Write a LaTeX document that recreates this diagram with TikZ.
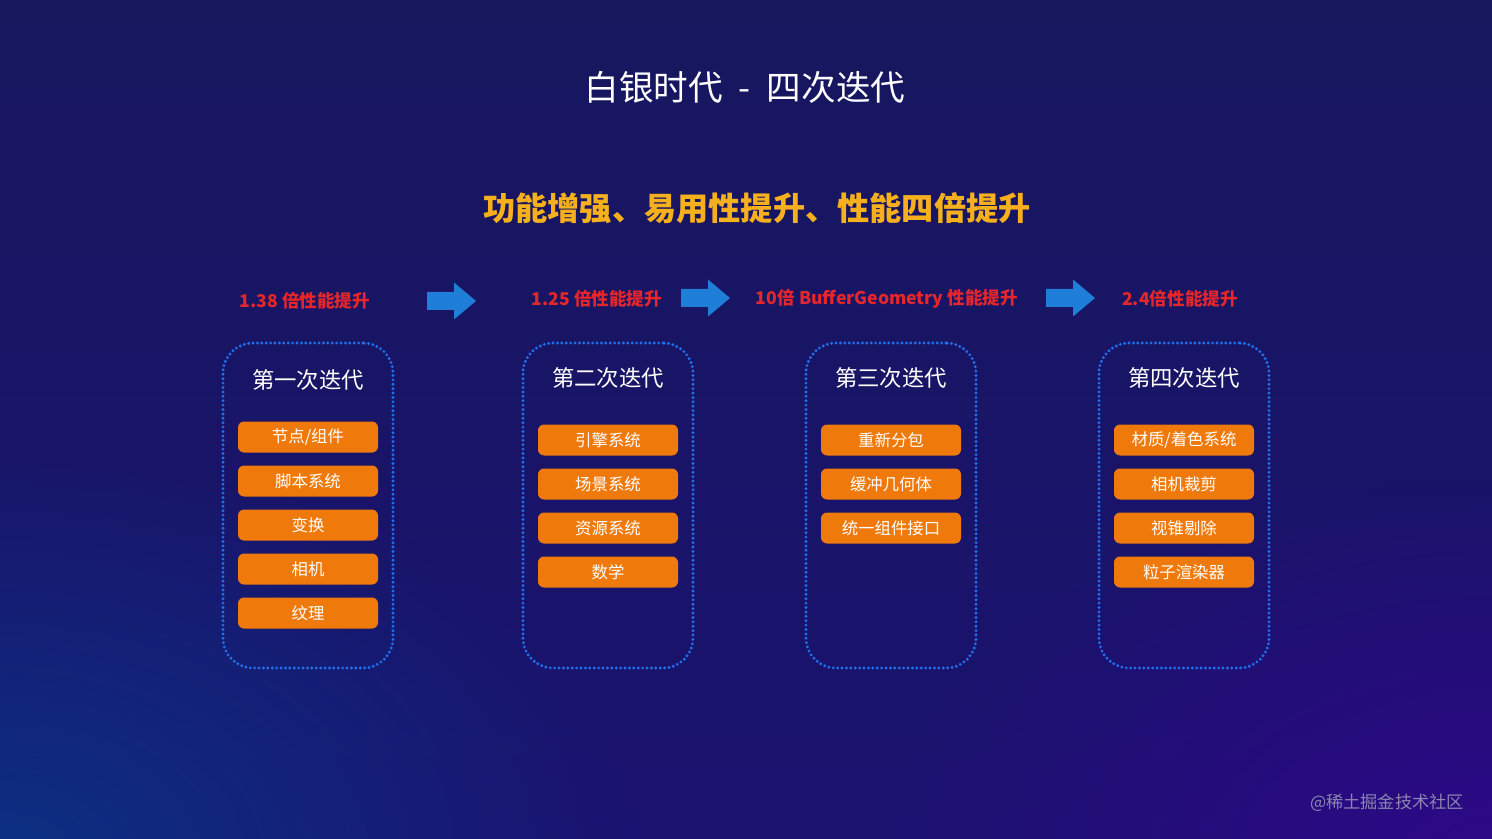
\documentclass[tikz,border=0pt]{standalone}
\usepackage{fontspec}
\setmainfont{Noto Sans CJK SC}
\usetikzlibrary{fadings}
\definecolor{bgtop}{HTML}{17175E}
\definecolor{bgbottom}{HTML}{1B1270}
\definecolor{glowblue}{HTML}{0A3486}
\definecolor{glowpurple}{HTML}{30088A}
\definecolor{dotblue}{HTML}{1F70EA}
\definecolor{btnorange}{HTML}{F0790B}
\definecolor{headyellow}{HTML}{F6B01E}
\definecolor{gainred}{HTML}{E5262B}
\definecolor{arrowblue}{HTML}{1F7ED8}
\definecolor{markgray}{HTML}{8C86B0}
\tikzfading[name=glowfade, inner color=transparent!0, outer color=transparent!100]

\begin{document}
\begin{tikzpicture}[x=0.5pt,y=-0.5pt,
    every node/.style={text=white, inner sep=0pt},
    stagebox/.style={draw=dotblue, line width=1.6pt, dash pattern=on 0pt off 2.2pt,
        line cap=round, rounded corners=15pt, minimum width=85pt, minimum height=162.5pt},
    stagetitle/.style={font=\fontsize{11.2}{13}\selectfont},
    featbtn/.style={fill=btnorange, rounded corners=3pt, minimum width=70pt,
        minimum height=15.5pt, font=\fontsize{8.2}{10}\selectfont},
    gain/.style={text=gainred, font=\bfseries\fontsize{8.8}{10}\selectfont}]
    % -------------------------
    % Background
    % -------------------------
    \useasboundingbox (0,0) rectangle (1492,839);
    \shade[top color=bgtop, bottom color=bgbottom] (0,0) rectangle (1492,839);
    \fill[glowblue, path fading=glowfade, opacity=0.9] (0,860) ellipse (640 and 420);
    \fill[glowpurple, path fading=glowfade, opacity=0.9] (1492,860) ellipse (600 and 380);

    % -------------------------
    % Headings
    % -------------------------
    \node[font=\fontsize{17.3}{20}\selectfont] (title) at (745,87)
        {白银时代\hspace{8pt}-\hspace{8pt}四次迭代};
    \node[text=headyellow, font=\bfseries\fontsize{16.1}{20}\selectfont] (subtitle) at (757,208)
        {功能增强、易用性提升、性能四倍提升};

    % -------------------------
    % Gains and arrows
    % -------------------------
    \node[gain] (g1) at (305,301) {1.38 倍性能提升};
    \node[gain] (g2) at (597,299) {1.25 倍性能提升};
    \node[gain] (g3) at (887,299) {10倍 BufferGeometry 性能提升};
    \node[gain] (g4) at (1180,299) {2.4倍性能提升};
    \foreach \ax/\ay in {427/301, 681/298, 1046/298}
        \fill[arrowblue] (\ax,\ay-9) -- ++(27,0) -- ++(0,-9.5) -- ++(22,18.5)
            -- ++(-22,18.5) -- ++(0,-9.5) -- ++(-27,0) -- cycle;

    % -------------------------
    % Stages
    % -------------------------
    \node[stagebox] (s1) at (308,505.5) {};
    \node[stagebox] (s2) at (608,505.5) {};
    \node[stagebox] (s3) at (891,505.5) {};
    \node[stagebox] (s4) at (1184,505.5) {};
    \node[stagetitle] (t1) at (308,380) {第一次迭代};
    \node[stagetitle] (t2) at (608,378) {第二次迭代};
    \node[stagetitle] (t3) at (891,378) {第三次迭代};
    \node[stagetitle] (t4) at (1184,378) {第四次迭代};

    % Feature buttons
    \foreach \lbl [count=\i] in {节点/组件, 脚本系统, 变换, 相机, 纹理}
        \node[featbtn] (b1-\i) at (308,393+44*\i) {\lbl};
    \foreach \lbl [count=\i] in {引擎系统, 场景系统, 资源系统, 数学}
        \node[featbtn] (b2-\i) at (608,396+44*\i) {\lbl};
    \foreach \lbl [count=\i] in {重新分包, 缓冲几何体, 统一组件接口}
        \node[featbtn] (b3-\i) at (891,396+44*\i) {\lbl};
    \foreach \lbl [count=\i] in {材质/着色系统, 相机裁剪, 视锥剔除, 粒子渲染器}
        \node[featbtn] (b4-\i) at (1184,396+44*\i) {\lbl};

    % Watermark
    \node[text=markgray, font=\fontsize{8.6}{10}\selectfont] (mark) at (1387,803) {@稀土掘金技术社区};
\end{tikzpicture}
\end{document}
